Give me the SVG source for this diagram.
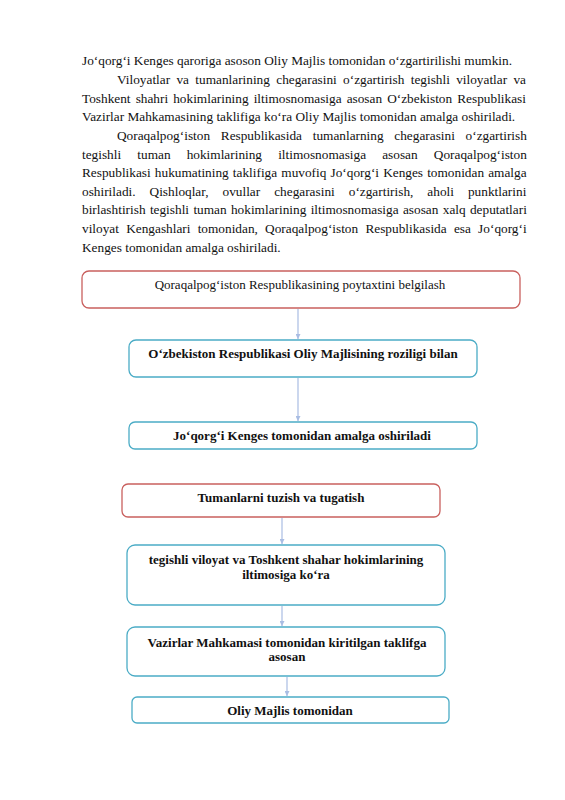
<svg xmlns="http://www.w3.org/2000/svg" width="565" height="800" viewBox="0 0 565 800">
<defs>
<style>
.p{font-family:"Liberation Serif","Times New Roman",serif;font-size:13.3px;fill:#111}
.t{font-family:"Liberation Serif","Times New Roman",serif;font-size:13px;fill:#111;text-anchor:middle}
.b{font-weight:bold}
.red{fill:#fff;stroke:#c9605e;stroke-width:1.3}
.blue{fill:#fff;stroke:#4bacc6;stroke-width:1.3}
.c{stroke:#a9bde3;stroke-width:1.2;fill:none}
</style>
<marker id="ah" viewBox="0 0 10 10" refX="10" refY="5" markerWidth="5" markerHeight="5" orient="auto" markerUnits="userSpaceOnUse">
<path d="M0,0 L10,5 L0,10 z" fill="#a9bde3"/>
</marker>
</defs>
<rect width="565" height="800" fill="#fff"/>
<g id="paragraph">
<text class="p" x="82" y="65">Jo‘qorg‘i Kenges qaroriga asoson Oliy Majlis tomonidan o‘zgartirilishi mumkin.</text>
<text class="p" x="117" y="84" word-spacing="3.0">Viloyatlar va tumanlarining chegarasini o‘zgartirish tegishli viloyatlar va</text>
<text class="p" x="82" y="102.5" word-spacing="1.76">Toshkent shahri hokimlarining iltimosnomasiga asosan O‘zbekiston Respublikasi</text>
<text class="p" x="82" y="121">Vazirlar Mahkamasining taklifiga ko‘ra Oliy Majlis tomonidan amalga oshiriladi.</text>
<text class="p" x="117" y="140" word-spacing="7.38">Qoraqalpog‘iston Respublikasida tumanlarning chegarasini o‘zgartirish</text>
<text class="p" x="82" y="158.5" word-spacing="12.82">tegishli tuman hokimlarining iltimosnomasiga asosan Qoraqalpog‘iston</text>
<text class="p" x="82" y="177" word-spacing="0.82">Respublikasi hukumatining taklifiga muvofiq Jo‘qorg‘i Kenges tomonidan amalga</text>
<text class="p" x="82" y="195.5" word-spacing="10.69">oshiriladi. Qishloqlar, ovullar chegarasini o‘zgartirish, aholi punktlarini</text>
<text class="p" x="82" y="214" word-spacing="1.03">birlashtirish tegishli tuman hokimlarining iltimosnomasiga asosan xalq deputatlari</text>
<text class="p" x="82" y="233" word-spacing="3.92">viloyat Kengashlari tomonidan, Qoraqalpog‘iston Respublikasida esa Jo‘qorg‘i</text>
<text class="p" x="82" y="251.5">Kenges tomonidan amalga oshiriladi.</text>
</g>
<g id="connectors">
<line class="c" x1="298" y1="309" x2="298" y2="339" marker-end="url(#ah)"/>
<line class="c" x1="298" y1="378" x2="298" y2="421" marker-end="url(#ah)"/>
<line class="c" x1="282" y1="518" x2="282" y2="544" marker-end="url(#ah)"/>
<line class="c" x1="282" y1="606" x2="282" y2="626" marker-end="url(#ah)"/>
<line class="c" x1="287" y1="677" x2="287" y2="696" marker-end="url(#ah)"/>
</g>
<g id="n1">
<rect class="red" x="82" y="271" width="438" height="37" rx="7"/>
<text class="t" x="300" y="289">Qoraqalpog‘iston Respublikasining poytaxtini belgilash</text>
</g>
<g id="n2">
<rect class="blue" x="129" y="340" width="348" height="37" rx="7"/>
<text class="t b" x="303" y="358">O‘zbekiston Respublikasi Oliy Majlisining roziligi bilan</text>
</g>
<g id="n3">
<rect class="blue" x="129" y="422" width="348" height="27" rx="6"/>
<text class="t b" x="302" y="439.5">Jo‘qorg‘i Kenges tomonidan amalga oshiriladi</text>
</g>
<g id="n4">
<rect class="red" x="122" y="484" width="318" height="33" rx="6"/>
<text class="t b" x="281" y="501.5">Tumanlarni tuzish va tugatish</text>
</g>
<g id="n5">
<rect class="blue" x="127" y="545" width="318" height="60" rx="8"/>
<text class="t b" x="286" y="563.5">tegishli viloyat va Toshkent shahar hokimlarining</text>
<text class="t b" x="286" y="578.5">iltimosiga ko‘ra</text>
</g>
<g id="n6">
<rect class="blue" x="127" y="627" width="318" height="49" rx="8"/>
<text class="t b" x="287" y="646.5">Vazirlar Mahkamasi tomonidan kiritilgan taklifga</text>
<text class="t b" x="287" y="661">asosan</text>
</g>
<g id="n7">
<rect class="blue" x="132" y="697" width="317" height="26" rx="5"/>
<text class="t b" x="290" y="714.5">Oliy Majlis tomonidan</text>
</g>
</svg>
